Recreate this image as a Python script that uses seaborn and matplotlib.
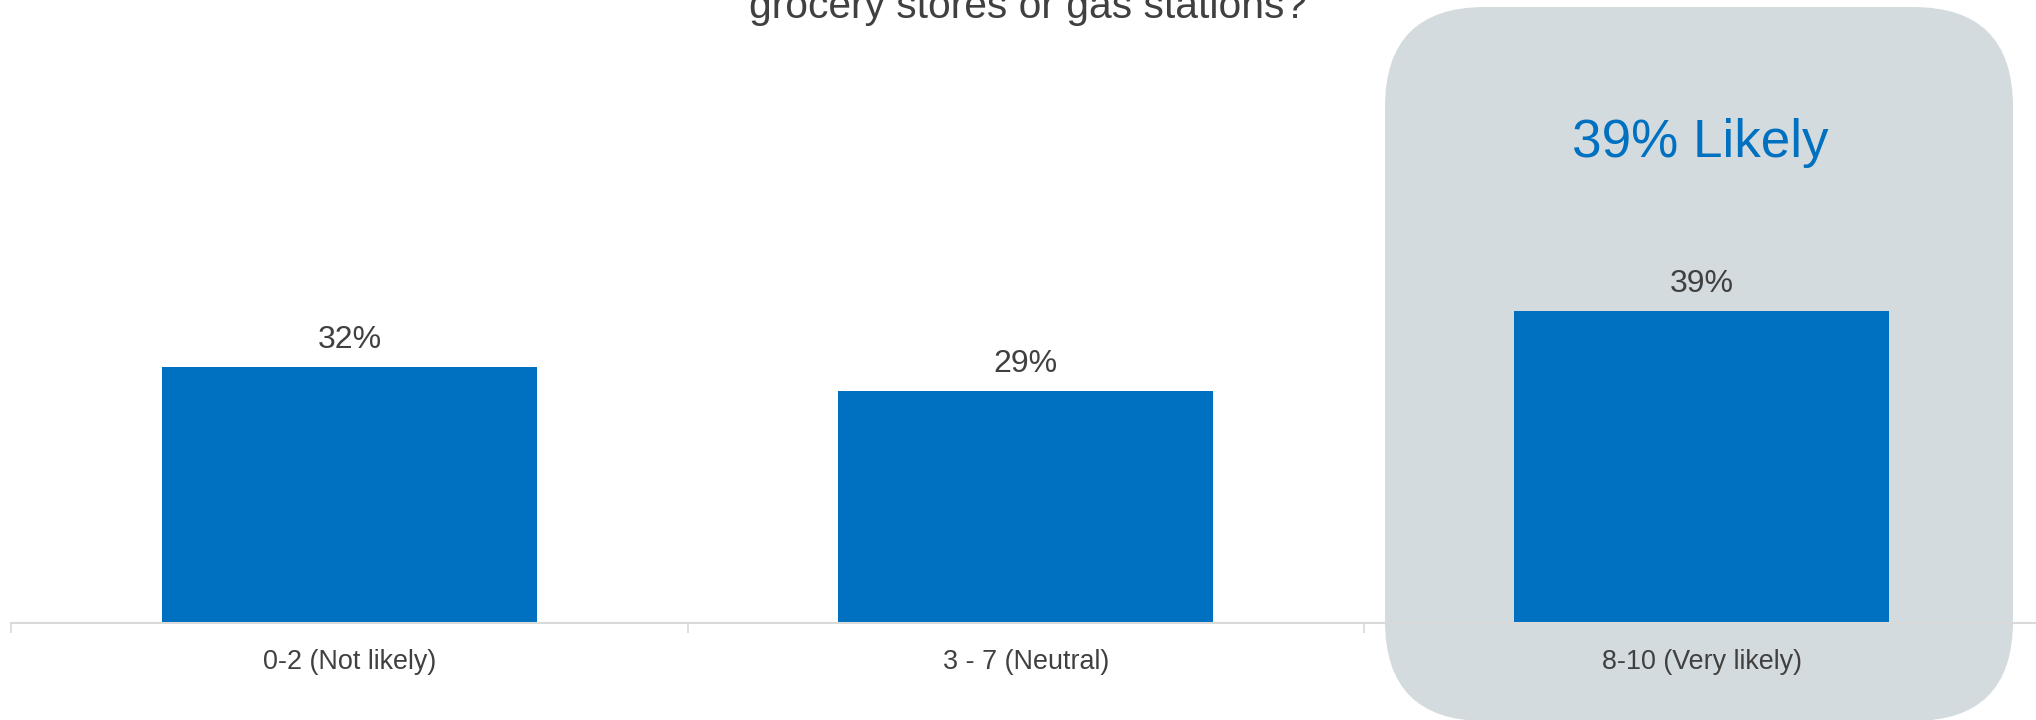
import matplotlib
matplotlib.use("Agg")
import matplotlib.pyplot as plt
from matplotlib.patches import FancyBboxPatch
import seaborn as sns
import pandas as pd

# ---- data ----
categories = ["0-2 (Not likely)", "3 - 7 (Neutral)", "8-10 (Very likely)"]
values = [32, 29, 39]
value_labels = ["32%", "29%", "39%"]
title_text = "grocery stores or gas stations?"
highlight_text = "39% Likely"

# ---- style ----
sns.set_theme(style="white")
plt.rcParams['font.family'] = ['Liberation Sans', 'DejaVu Sans']

BLUE = "#0070C0"
GRAY_TXT = "#404040"
AXIS_GRAY = "#D9D9D9"
BOX_GRAY = "#D3DBDE"

W, H, DPI = 2036, 720, 100
fig = plt.figure(figsize=(W / DPI, H / DPI), dpi=DPI)
fig.patch.set_facecolor("white")

# background axes in pixel coordinates (for the rounded highlight box)
bg = fig.add_axes([0, 0, 1, 1], zorder=0)
bg.set_xlim(0, W)
bg.set_ylim(H, 0)
bg.axis("off")
box = FancyBboxPatch((1385, 7), 2013 - 1385, 721 - 7,
                     boxstyle="round,pad=0,rounding_size=100",
                     facecolor=BOX_GRAY, edgecolor="none")
bg.add_patch(box)
bg.text(1700, 156.7, highlight_text, ha="center", va="baseline",
        fontsize=38.2, color=BLUE)
bg.text(1028.5, 18.5, title_text, ha="center", va="baseline",
        fontsize=29.3, color=GRAY_TXT)

# main axes
spacing = 676.2
left_px = 349.5 - spacing / 2
axis_y = 622.5
px_per_unit = 7.99
ax = fig.add_axes([left_px / W, (H - axis_y) / H, 3 * spacing / W, axis_y / H], zorder=1)
ax.patch.set_alpha(0)

df = pd.DataFrame({"cat": categories, "val": values})
sns.barplot(data=df, x="cat", y="val", color=BLUE, saturation=1,
            width=375 / spacing, ax=ax, edgecolor="none")

ax.set_xlim(-0.5, 2.5)
ax.set_ylim(0, axis_y / px_per_unit)

for i, (v, lab) in enumerate(zip(values, value_labels)):
    ax.annotate(lab, (i, v), xytext=(0, 19 * 72 / DPI), textcoords="offset points",
                ha="center", va="baseline", fontsize=23, color=GRAY_TXT)

for s in ["top", "right", "left"]:
    ax.spines[s].set_visible(False)
ax.spines["bottom"].set_color(AXIS_GRAY)
ax.spines["bottom"].set_linewidth(1.5)
ax.set_yticks([])
ax.set_xlabel("")
ax.set_ylabel("")
ax.set_xticks(range(len(categories)))
ax.set_xticklabels(categories, fontsize=19.4, color=GRAY_TXT)
ax.tick_params(axis="x", which="major", length=0, pad=19)
ax.set_xticks([-0.5, 0.5, 1.5, 2.5], minor=True)
ax.tick_params(axis="x", which="minor", bottom=True, length=7.2, width=1.2,
               color=AXIS_GRAY, direction="out")

fig.savefig("out.png", dpi=DPI, facecolor="white")
